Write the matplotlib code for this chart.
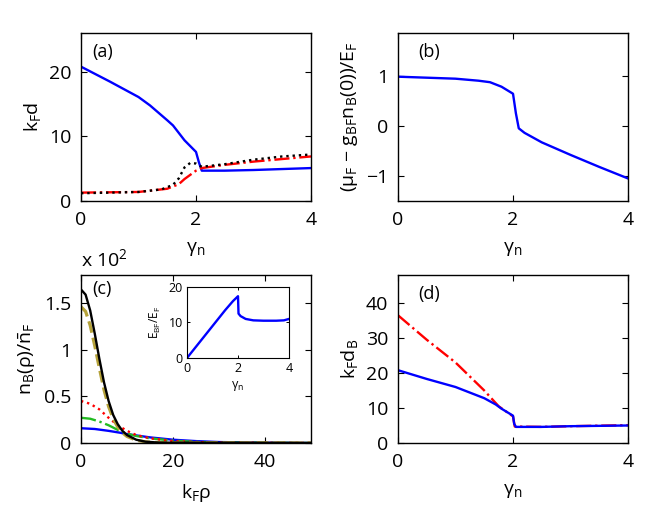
import numpy as np
import matplotlib.pyplot as plt

plt.rcParams['font.family'] = ['Open Sans', 'DejaVu Sans']
plt.rcParams['mathtext.fontset'] = 'custom'
plt.rcParams['mathtext.rm'] = 'Open Sans'
plt.rcParams['mathtext.it'] = 'Open Sans'
plt.rcParams['mathtext.bf'] = 'Open Sans'

# (a) k_F d vs gamma_n
a_blue_x = [0, 0.5, 1.0, 1.2, 1.5, 1.6, 1.8, 2.0, 2.05, 2.1, 2.5, 3.0, 3.5, 4.0]
a_blue_y = [20.8, 18.5, 16.1, 14.8, 12.5, 11.7, 9.4, 7.6, 6.0, 4.7, 4.7, 4.8, 4.95, 5.1]
a_black_x = [0, 1.0, 1.4, 1.6, 1.7, 1.8, 1.9, 2.0, 2.1, 2.5, 3.0, 3.5, 4.0]
a_black_y = [1.2, 1.4, 1.8, 2.5, 3.5, 5.2, 5.9, 5.8, 5.3, 5.7, 6.4, 6.9, 7.2]
a_red_x = [0, 1.0, 1.5, 1.7, 1.8, 2.0, 2.1, 2.5, 3.0, 3.5, 4.0]
a_red_y = [1.3, 1.4, 1.9, 2.6, 3.4, 4.7, 5.1, 5.6, 6.1, 6.5, 6.9]

# (b) (mu_F - g_BF n_B(0))/E_F vs gamma_n
b_x = [0, 0.5, 1.0, 1.4, 1.6, 1.8, 2.0, 2.05, 2.1, 2.2, 2.5, 3.0, 3.5, 4.0]
b_y = [0.98, 0.96, 0.94, 0.90, 0.87, 0.78, 0.64, 0.25, -0.05, -0.14, -0.33, -0.58, -0.82, -1.05]

# (c) boson density profiles (x 10^2)
c_black_x = [0, 1, 2, 3, 4, 5, 6, 7, 8, 9, 10, 12, 14, 17, 50]
c_black_y = [1.645, 1.59, 1.42, 1.17, 0.90, 0.65, 0.45, 0.30, 0.20, 0.13, 0.085, 0.035, 0.014, 0.004, 0]
c_olive_x = [0, 1, 2, 3, 4, 5, 6, 7, 8, 9, 10, 12, 14, 17, 50]
c_olive_y = [1.46, 1.41, 1.26, 1.04, 0.80, 0.57, 0.39, 0.26, 0.17, 0.11, 0.07, 0.03, 0.012, 0.004, 0]
c_red_x = [0, 2, 4, 6, 8, 10, 12, 15, 20, 25, 30, 50]
c_red_y = [0.45, 0.42, 0.36, 0.27, 0.19, 0.13, 0.085, 0.05, 0.02, 0.01, 0.004, 0]
c_green_x = [0, 2, 4, 6, 8, 10, 12, 15, 20, 25, 30, 50]
c_green_y = [0.27, 0.26, 0.23, 0.19, 0.14, 0.10, 0.075, 0.05, 0.025, 0.012, 0.005, 0]
c_blue_x = [0, 3, 6, 8.5, 10, 15, 20, 25, 30, 40, 50]
c_blue_y = [0.158, 0.15, 0.13, 0.11, 0.095, 0.06, 0.035, 0.02, 0.01, 0.003, 0]

# inset: E_BF/E_F vs gamma_n
ins_x = [0, 0.5, 1.0, 1.5, 1.8, 2.0, 2.02, 2.1, 2.3, 2.6, 3.0, 3.5, 3.8, 4.0]
ins_y = [0, 4.5, 9.0, 13.5, 16.0, 17.4, 12.5, 11.8, 11.0, 10.6, 10.5, 10.5, 10.6, 11.0]

# (d) k_F d_B vs gamma_n
d_blue_x = [0, 0.5, 1.0, 1.5, 1.7, 1.8, 2.0, 2.02, 2.05, 2.5, 3.0, 3.5, 4.0]
d_blue_y = [20.8, 18.3, 16.0, 12.8, 11.0, 9.8, 7.8, 5.5, 4.6, 4.6, 4.8, 4.9, 5.0]
d_red_x = [0, 0.5, 1.0, 1.5, 1.75, 2.0, 2.03, 2.5, 3.0, 4.0]
d_red_y = [36.5, 29.5, 23.0, 15.0, 10.5, 7.6, 4.7, 4.6, 4.8, 5.1]

FS = 14
LW = 1.7

fig = plt.figure(figsize=(6.65, 5.12), dpi=100)


def style(ax, fs=FS):
    ax.tick_params(direction='in', top=True, right=True, length=4, width=0.8, labelsize=fs, pad=7)
    for s in ax.spines.values():
        s.set_linewidth(1.0)


axA = fig.add_axes([0.1218, 0.6074, 0.3459, 0.328])
axA.plot(a_blue_x, a_blue_y, color='blue', lw=LW)
axA.plot(a_red_x, a_red_y, color='red', lw=LW, ls='-.')
axA.plot(a_black_x, a_black_y, color='black', lw=LW, ls=':')
axA.set_xlim(0, 4)
axA.set_ylim(0, 26)
axA.set_xticks([0, 2, 4])
axA.set_yticks([0, 10, 20])
axA.set_ylabel('k$_{F}$d', fontsize=FS)
axA.set_xlabel('γ$_{n}$', fontsize=FS, labelpad=8)
axA.text(0.05, 0.94, '(a)', transform=axA.transAxes, fontsize=13, va='top')
style(axA)

axB = fig.add_axes([0.5985, 0.6074, 0.3459, 0.328])
axB.plot(b_x, b_y, color='blue', lw=LW)
axB.set_xlim(0, 4)
axB.set_ylim(-1.5, 1.85)
axB.set_xticks([0, 2, 4])
axB.set_yticks([-1, 0, 1])
axB.set_yticklabels(['\u22121', '0', '1'])
axB.set_ylabel('(μ$_{F}$ \u2212 g$_{BF}$n$_{B}$(0))/E$_{F}$', fontsize=FS)
axB.set_xlabel('γ$_{n}$', fontsize=FS, labelpad=8)
axB.text(0.09, 0.94, '(b)', transform=axB.transAxes, fontsize=13, va='top')
style(axB)

axC = fig.add_axes([0.1218, 0.1348, 0.3459, 0.328])
axC.plot(c_blue_x, c_blue_y, color='blue', lw=LW)
axC.plot(c_green_x, c_green_y, color='#22bb22', lw=LW, ls='-.')
axC.plot(c_red_x, c_red_y, color='red', lw=LW, ls=':')
axC.plot(c_olive_x, c_olive_y, color='#b5a23a', lw=2.3, ls='--')
axC.plot(c_black_x, c_black_y, color='black', lw=LW)
axC.set_xlim(0, 50)
axC.set_ylim(0, 1.8)
axC.set_xticks([0, 20, 40])
axC.set_yticks([0, 0.5, 1, 1.5])
axC.set_yticklabels(['0', '0.5', '1', '1.5'])
axC.set_ylabel(r'n$_{B}$(ρ)/$\bar{\mathrm{n}}_{F}$', fontsize=FS)
axC.set_xlabel('k$_{F}$ρ', fontsize=FS, labelpad=8)
axC.text(0.05, 0.97, '(c)', transform=axC.transAxes, fontsize=13, va='top')
axC.text(0.0, 1.03, 'x 10$^{2}$', transform=axC.transAxes, fontsize=FS, va='bottom')
style(axC)

axI = fig.add_axes([0.2812, 0.3008, 0.1534, 0.1387])
axI.plot(ins_x, ins_y, color='blue', lw=LW)
axI.set_xlim(0, 4)
axI.set_ylim(0, 20)
axI.set_xticks([0, 2, 4])
axI.set_yticks([0, 10, 20])
axI.set_ylabel('E$_{BF}$/E$_{F}$', fontsize=8.5)
axI.set_xlabel('γ$_{n}$', fontsize=9, labelpad=3)
axI.tick_params(direction='in', top=True, right=True, length=2.5, width=0.7, labelsize=9, pad=3)

axD = fig.add_axes([0.5985, 0.1348, 0.3459, 0.328])
axD.plot(d_red_x, d_red_y, color='red', lw=LW, ls='-.')
axD.plot(d_blue_x, d_blue_y, color='blue', lw=LW)
axD.set_xlim(0, 4)
axD.set_ylim(0, 48)
axD.set_xticks([0, 2, 4])
axD.set_yticks([0, 10, 20, 30, 40])
axD.set_ylabel('k$_{F}$d$_{B}$', fontsize=FS)
axD.set_xlabel('γ$_{n}$', fontsize=FS, labelpad=8)
axD.text(0.09, 0.94, '(d)', transform=axD.transAxes, fontsize=13, va='top')
style(axD)

fig.savefig('out.png', dpi=100)
